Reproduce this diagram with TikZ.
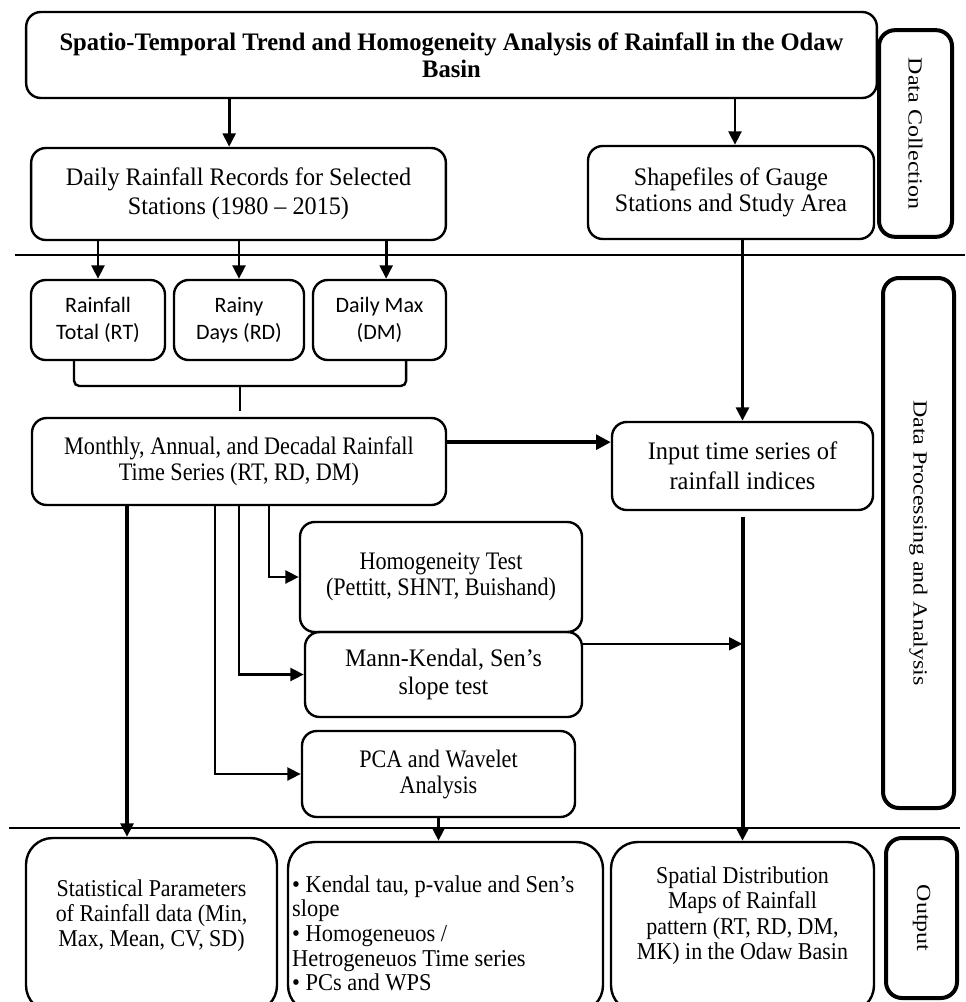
\documentclass[tikz,border=0pt]{standalone}
\usepackage{fontspec}
\setmainfont{Liberation Serif}
\newfontfamily\calibri{Carlito}
\usetikzlibrary{arrows.meta}

% condensed Times-like text: stretch, size, baselineskip
\newcommand\boxfont[3]{\addfontfeatures{FakeStretch=#1}\fontsize{#2}{#3}\selectfont}

\begin{document}
\begin{tikzpicture}[x=0.75pt,y=-0.75pt,
	box/.style={draw,line width=1.8pt,rounded corners=11pt,align=center,inner sep=0pt,font=\boxfont{0.96}{18.9}{22}},
	boxb/.style={box,font=\boxfont{0.88}{18.9}{19.5}},
	small/.style={box,font=\calibri\fontsize{16.5}{20}\selectfont},
	outbox/.style={box,rounded corners=20pt,font=\boxfont{0.91}{18.1}{19}},
	side/.style={box,line width=3pt,rounded corners=12pt,rotate=-90,font=\boxfont{1.2}{15}{18}},
	arr/.style={line width=2.2pt,-{Triangle[length=10pt,width=9.5pt]}},
	sep/.style={line width=1.5pt}]

	\useasboundingbox (0,0) rectangle (965,1002);

	\draw[sep] (15,255) -- (965,255);
	\draw[sep] (9,828) -- (960,828);

	\node[box,minimum width=638pt,minimum height=64.5pt,font=\bfseries\boxfont{0.975}{18.9}{20}] (title) at (451.5,55) {Spatio-Temporal Trend and Homogeneity Analysis of Rainfall in the Odaw\\Basin};
	\node[box,minimum width=311pt,minimum height=69pt] (daily) at (238.5,194) {Daily Rainfall Records for Selected\\Stations (1980 – 2015)};
	\node[box,minimum width=214.5pt,minimum height=69.75pt,font=\boxfont{0.95}{18.9}{19.5}] (shape) at (731,192.5) {Shapefiles of Gauge\\Stations and Study Area};

	\node[small,minimum width=100.5pt,minimum height=60pt] (rt) at (98,320) {Rainfall\\Total (RT)};
	\node[small,minimum width=97.5pt,minimum height=60pt] (rd) at (239,320) {Rainy\\Days (RD)};
	\node[small,minimum width=99.75pt,minimum height=60pt] (dm) at (379.5,320) {Daily Max\\(DM)};

	\node[boxb,minimum width=310.5pt,minimum height=65.25pt] (monthly) at (239,461.5) {Monthly, Annual, and Decadal Rainfall\\Time Series (RT, RD, DM)};
	\node[box,minimum width=195.75pt,minimum height=66pt,font=\boxfont{0.97}{18.9}{22.5}] (input) at (742.5,466) {Input time series of\\rainfall indices};
	\node[boxb,minimum width=211.5pt,minimum height=82.5pt] (homog) at (441,577) {Homogeneity Test\\(Pettitt, SHNT, Buishand)};
	\node[box,minimum width=207.75pt,minimum height=63.75pt,font=\boxfont{0.95}{18.9}{21}] (mk) at (443.5,674.5) {Mann-Kendal, Sen’s\\slope test};
	\node[boxb,minimum width=204.75pt,minimum height=64.5pt] (pca) at (438.5,774) {PCA and Wavelet\\Analysis};

	\node[outbox,minimum width=188.25pt,minimum height=130.5pt] (stat) at (151.5,925) {Statistical Parameters\\of Rainfall data (Min,\\Max, Mean, CV, SD)\rule[-18pt]{0pt}{18pt}};
	\node[outbox,minimum width=236.25pt,minimum height=127.5pt,text width=230pt,align=flush left,font=\boxfont{0.93}{18.1}{18.5}] (kend) at (445.5,927) {\rule{0pt}{22pt}• Kendal tau, p-value and Sen’s\\slope\\• Homogeneuos /\\Hetrogeneuos Time series\\• PCs and WPS};
	\node[outbox,minimum width=197.25pt,minimum height=127.5pt] (spatial) at (742.5,927) {Spatial Distribution\\Maps of Rainfall\\pattern (RT, RD, DM,\\MK) in the Odaw Basin\rule[-21pt]{0pt}{21pt}};

	\node[side,minimum width=155pt,minimum height=54.75pt] (dcol) at (915.5,133.5) {Data Collection};
	\node[side,minimum width=397.5pt,minimum height=53.25pt] (dproc) at (918.5,543) {Data Processing and Analysis};
	\node[side,minimum width=120pt,minimum height=53.25pt] (outp) at (921.5,918) {Output};

	\draw[arr] ([xshift=-7pt]daily.north |- title.south) -- ([xshift=-7pt]daily.north);
	\draw[arr] ([xshift=3pt]shape.north |- title.south) -- ([xshift=3pt]shape.north);

	\draw[arr] (rt.north |- daily.south) -- (rt.north);
	\draw[arr] (rd.north |- daily.south) -- (rd.north);
	\draw[arr] ([xshift=5pt]dm.north |- daily.south) -- ([xshift=5pt]dm.north);

	% brace under the three indices
	\coordinate (brace) at (240,386);
	\draw[line width=1.8pt,rounded corners=4pt] ([xshift=-18pt]rt.south) |- (brace) -| ([xshift=20pt]dm.south);
	\draw[line width=1.8pt,shorten >=4pt] (brace) -- (brace |- monthly.north);

	\draw[line width=2.6pt,-{Triangle[length=11pt,width=11pt]}] ([yshift=14.5pt]monthly.east) -- ([yshift=14.5pt]monthly.east -| input.west);
	\draw[arr,line width=2.8pt] (input.north |- shape.south) -- (input.north);

	\draw[arr] ([xshift=22.5pt]monthly.south) |- (homog.west);
	\draw[arr] (monthly.south) |- (mk.west);
	\draw[arr] ([xshift=-18pt]monthly.south) |- (pca.west);
	\draw[arr,line width=3pt] ([xshift=-84pt]monthly.south) -- ([xshift=-84pt]monthly.south |- stat.north);

	\draw[arr,line width=1.6pt] ([yshift=23pt]mk.east) -- ([yshift=23pt]mk.east -| input.south);
	\draw[arr,line width=3pt,shorten <=4pt] (input.south) -- (spatial.north);
	\draw[arr] (pca.south) -- (pca.south |- kend.north);

\end{tikzpicture}
\end{document}
